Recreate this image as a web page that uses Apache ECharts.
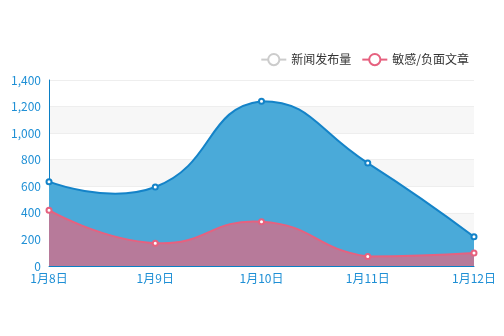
<!DOCTYPE html>
<html><head><meta charset="utf-8">
<script src="https://cdn.jsdelivr.net/npm/echarts@6/dist/echarts.min.js"></script>
<style>html,body{margin:0;padding:0;background:#fff}#c{width:504px;height:336px}</style>
</head><body><div id="c"></div>
<script>
const categories = ['1月8日','1月9日','1月10日','1月11日','1月12日'];
const newsValues = [635, 595, 1240, 775, 220];
const sensitiveValues = [420, 172, 333, 72, 98];
const seriesNames = ['新闻发布量','敏感/负面文章'];
const yTicks = [0, 200, 400, 600, 800, 1000, 1200, 1400];

const BLUE_LINE = '#1483c8', BLUE_AREA = '#4aaad9';
const PINK_LINE = '#e6617f', PINK_AREA = '#b77a9a';

// smooth curve (classic cardinal-style bezier with bounding-box constraint)
function smoothPath(pts, smooth) {
  const n = pts.length;
  let minX = Infinity, minY = Infinity, maxX = -Infinity, maxY = -Infinity;
  pts.forEach(p => { minX = Math.min(minX, p[0]); maxX = Math.max(maxX, p[0]); minY = Math.min(minY, p[1]); maxY = Math.max(maxY, p[1]); });
  const cps = [];
  for (let i = 0; i < n; i++) {
    const p = pts[i];
    if (i === 0 || i === n - 1) { cps.push([p[0], p[1]], [p[0], p[1]]); continue; }
    const prev = pts[i - 1], next = pts[i + 1];
    const vx = (next[0] - prev[0]) * smooth, vy = (next[1] - prev[1]) * smooth;
    let d0 = Math.hypot(p[0] - prev[0], p[1] - prev[1]);
    let d1 = Math.hypot(p[0] - next[0], p[1] - next[1]);
    const s = d0 + d1; if (s) { d0 /= s; d1 /= s; }
    const c0 = [p[0] - vx * d0, p[1] - vy * d0];
    const c1 = [p[0] + vx * d1, p[1] + vy * d1];
    [c0, c1].forEach(c => { c[0] = Math.min(Math.max(c[0], minX), maxX); c[1] = Math.min(Math.max(c[1], minY), maxY); });
    cps.push(c0, c1);
  }
  let d = 'M' + pts[0][0] + ' ' + pts[0][1];
  for (let i = 0; i < n - 1; i++) {
    const a = cps[2 * i + 1], b = cps[2 * (i + 1)], q = pts[i + 1];
    d += ' C' + a[0] + ' ' + a[1] + ' ' + b[0] + ' ' + b[1] + ' ' + q[0] + ' ' + q[1];
  }
  return d;
}

function curveSeries(name, values, lineColor, areaColor) {
  return {
    name: name, type: 'custom', coordinateSystem: 'cartesian2d', z: 1, silent: true,
    data: [[0, values[0]]],
    renderItem: function (params, api) {
      const pts = values.map((v, i) => api.coord([i, v]));
      const base = api.coord([0, 0])[1];
      const line = smoothPath(pts, 0.5);
      const area = line + ' L' + pts[pts.length - 1][0] + ' ' + base + ' L' + pts[0][0] + ' ' + base + ' Z';
      return {
        type: 'group', children: [
          { type: 'path', shape: { pathData: area }, style: { fill: areaColor, stroke: null } },
          { type: 'path', shape: { pathData: line }, style: { fill: null, stroke: lineColor, lineWidth: 2 } }
        ]
      };
    }
  };
}

function pointSeries(name, values, lineColor) {
  return {
    name: name, type: 'line', data: values, z: 3,
    symbol: 'emptyCircle', symbolSize: 5,
    itemStyle: { color: lineColor, borderColor: lineColor, borderWidth: 1 },
    lineStyle: { color: lineColor, opacity: 0, width: 2 }
  };
}

const chart = echarts.init(document.getElementById('c'), null, {renderer:'canvas'});
chart.setOption({
  animation:false,
  textStyle:{fontFamily:'"Noto Sans CJK SC", sans-serif'},
  legend:{
    right:30, top:48, itemWidth:25, itemHeight:14, itemGap:10,
    textStyle:{color:'#333', fontSize:12},
    lineStyle:{opacity:1},
    data:[
      {name:seriesNames[0], itemStyle:{color:'#ccc', borderColor:'#ccc'}, lineStyle:{color:'#ccc', opacity:1, width:2}},
      {name:seriesNames[1], itemStyle:{color:PINK_LINE, borderColor:PINK_LINE}, lineStyle:{color:PINK_LINE, opacity:1, width:2}}
    ]
  },
  grid:{left:49, right:30, top:80, bottom:70},
  xAxis:{
    type:'category', data:categories, boundaryGap:false,
    axisLine:{lineStyle:{color:'#0b7fc5', width:1}},
    axisTick:{show:false},
    axisLabel:{color:'#1e8fd5', fontSize:12, margin:6}
  },
  yAxis:{
    type:'value', min:yTicks[0], max:yTicks[yTicks.length-1], interval:200,
    axisLine:{show:true, lineStyle:{color:'#0b7fc5'}},
    axisTick:{show:false},
    axisLabel:{color:'#1e8fd5', fontSize:12},
    splitLine:{lineStyle:{color:'#eee'}},
    splitArea:{show:true, areaStyle:{color:['#ffffff','#f7f7f7']}}
  },
  series:[
    pointSeries(seriesNames[0], newsValues, BLUE_LINE),
    pointSeries(seriesNames[1], sensitiveValues, PINK_LINE),
    curveSeries(seriesNames[0], newsValues, BLUE_LINE, BLUE_AREA),
    curveSeries(seriesNames[1], sensitiveValues, PINK_LINE, PINK_AREA)
  ]
});
</script></body></html>
